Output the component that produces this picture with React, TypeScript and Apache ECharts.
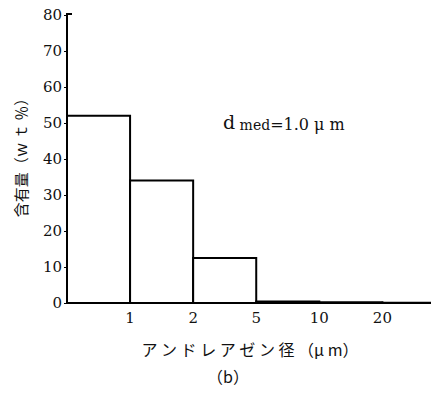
import React, { useEffect, useRef } from "react";
import * as echarts from "echarts";

// Size classes are drawn on an evenly spaced scale: each class takes one unit.
const classEdges = [0, 1, 2, 3, 4, 5, 5.85];
const contentPct = [52, 34, 12.5, 0.4, 0.2, 0.1];
const edgeLabels: Record<number, string> = { 1: "1", 2: "2", 3: "5", 4: "10", 5: "20" };
const yTicks = [0, 10, 20, 30, 40, 50, 60, 70, 80];

const SERIF = "DejaVu Serif";
const JP = "Noto Sans CJK JP";

export default function App() {
  const ref = useRef<HTMLDivElement>(null);

  useEffect(() => {
    if (!ref.current) return;
    const chart = echarts.init(ref.current, undefined, { renderer: "svg" });

    const data = contentPct.map((v, i) => [classEdges[i], classEdges[i + 1], v]);

    chart.setOption({
      animation: false,
      backgroundColor: "#fff",
      textStyle: { fontFamily: SERIF },
      grid: { left: 67, top: 15, right: 0, bottom: 96 },
      xAxis: {
        type: "value",
        min: 0,
        max: classEdges[classEdges.length - 1],
        interval: 1,
        splitLine: { show: false },
        axisLine: { lineStyle: { color: "#000", width: 2 } },
        axisTick: { show: false },
        axisLabel: {
          color: "#111",
          fontFamily: SERIF,
          fontSize: 15,
          margin: 7,
          formatter: (v: number) => edgeLabels[v] ?? "",
        },
      },
      yAxis: {
        type: "value",
        min: 0,
        max: 80,
        interval: 10,
        splitLine: { show: false },
        axisLine: { show: true, lineStyle: { color: "#000", width: 2 } },
        axisTick: { show: true, inside: false, length: 3, lineStyle: { color: "#000", width: 1 } },
        axisLabel: {
          color: "#111",
          fontFamily: SERIF,
          fontSize: 15,
          margin: 5,
          formatter: (v: number) => (yTicks.includes(v) ? String(v) : ""),
        },
      },
      series: [
        {
          type: "custom",
          data,
          renderItem: (_params: any, api: any) => {
            const p0 = api.coord([api.value(0), api.value(2)]);
            const p1 = api.coord([api.value(1), 0]);
            return {
              type: "rect",
              shape: { x: p0[0], y: p0[1], width: p1[0] - p0[0], height: p1[1] - p0[1] },
              style: { fill: "#fff", stroke: "#000", lineWidth: 2 },
            };
          },
        },
      ],
      graphic: [
        // small cap at the top of the y axis
        {
          type: "line",
          shape: { x1: 66, y1: 14, x2: 72, y2: 14 },
          style: { stroke: "#000", lineWidth: 2 },
        },
        {
          type: "text",
          x: 223,
          y: 122,
          style: {
            text: "{d|d}{s| med}{n|=1.0 μ m}",
            verticalAlign: "middle",
            fill: "#111",
            rich: {
              d: { fontFamily: SERIF, fontSize: 19, fill: "#111" },
              s: { fontFamily: SERIF, fontSize: 14, fill: "#111", padding: [6, 0, 0, 0] },
              n: { fontFamily: SERIF, fontSize: 16, fill: "#111", padding: [4, 0, 0, 0] },
            },
          },
        },
        {
          type: "text",
          x: 250,
          y: 349,
          style: {
            text: "ア ン ド レ ア ゼ ン 径 （μ m）",
            align: "center",
            verticalAlign: "middle",
            fontFamily: JP,
            fontSize: 16,
            fill: "#111",
          },
        },
        {
          type: "text",
          x: 228,
          y: 376,
          style: {
            text: "（b）",
            align: "center",
            verticalAlign: "middle",
            fontFamily: JP,
            fontSize: 16,
            fill: "#111",
          },
        },
        {
          type: "text",
          x: 20,
          y: 154,
          rotation: Math.PI / 2,
          style: {
            text: "含有量（ｗ ｔ ％）",
            align: "center",
            verticalAlign: "middle",
            fontFamily: JP,
            fontSize: 15,
            fill: "#111",
          },
        },
      ],
    });

    return () => chart.dispose();
  }, []);

  return <div ref={ref} style={{ width: 439, height: 399, margin: -8 }} />;
}
